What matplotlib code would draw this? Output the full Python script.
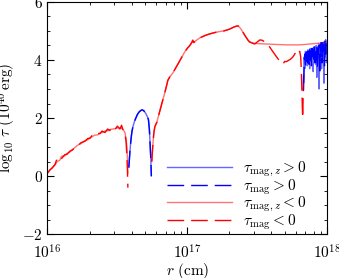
import matplotlib
matplotlib.use('Agg')
import matplotlib.pyplot as plt
import numpy as np

plt.rcParams['mathtext.fontset'] = 'cm'
plt.rcParams['font.family'] = 'serif'
plt.rcParams['font.serif'] = ['cmr10', 'DejaVu Serif']
plt.rcParams['axes.formatter.use_mathtext'] = True
plt.rcParams['font.size'] = 11

# log10 r (cm) and log10 tau (1e40 erg)
# inner red branch (tau < 0)
lr_red1 = [16.0, 16.018, 16.035, 16.054, 16.07, 16.089, 16.1, 16.125, 16.14, 16.161, 16.18,
           16.196, 16.218, 16.24, 16.268, 16.29, 16.304, 16.32, 16.339, 16.36, 16.375, 16.39,
           16.411, 16.43, 16.446, 16.465, 16.482, 16.5, 16.518, 16.53, 16.539, 16.554, 16.562,
           16.568, 16.572, 16.575]
v_red1 = [0.10, 0.2, 0.3, 0.38, 0.5, 0.55, 0.68, 0.7, 0.78, 0.83, 0.92, 0.98, 1.07, 1.12,
          1.22, 1.25, 1.32, 1.36, 1.41, 1.42, 1.48, 1.5, 1.55, 1.56, 1.6, 1.62, 1.63, 1.66,
          1.65, 1.64, 1.62, 1.5, 1.3, 1.0, 0.6, 0.1]
v_red1_tot = [0.10, 0.22, 0.28, 0.40, 0.62, 0.55, 0.6, 0.74, 0.75, 0.86, 0.9, 1.0, 1.05,
              1.15, 1.2, 1.3, 1.3, 1.4, 1.38, 1.47, 1.46, 1.55, 1.5, 1.62, 1.57, 1.68, 1.6,
              1.72, 1.62, 1.75, 1.6, 1.45, 1.2, 0.7, 0.2, -0.4]

# blue branch (tau > 0)
lr_blue1 = [16.582, 16.589, 16.596, 16.603, 16.611, 16.622, 16.632, 16.643, 16.654, 16.665,
            16.675, 16.682, 16.689, 16.697, 16.704, 16.711, 16.718, 16.722, 16.725, 16.729,
            16.732, 16.736, 16.739, 16.743]
v_blue1 = [0.3, 0.8, 1.2, 1.5, 1.7, 1.88, 2.0, 2.12, 2.2, 2.25, 2.28, 2.27, 2.25, 2.2, 2.15,
           2.08, 2.0, 1.95, 1.8, 1.6, 1.3, 0.9, 0.6, 0.0]

# outer red branch, shared part
lr_red2 = [16.746, 16.754, 16.761, 16.768, 16.775, 16.782, 16.79, 16.804, 16.818, 16.832,
           16.846, 16.861, 16.875, 16.896, 16.914, 16.932, 16.955, 16.982, 17.0, 17.018,
           17.032, 17.039, 17.046, 17.06, 17.089, 17.125, 17.161, 17.2, 17.232, 17.26,
           17.282, 17.3, 17.318, 17.336, 17.354, 17.365, 17.375, 17.386, 17.396, 17.41,
           17.425, 17.436, 17.446]
v_red2 = [0.5, 1.1, 1.5, 1.7, 1.78, 1.85, 2.0, 2.25, 2.5, 2.75, 3.0, 3.3, 3.42, 3.55, 3.7,
          3.85, 4.05, 4.28, 4.4, 4.5, 4.6, 4.68, 4.6, 4.66, 4.76, 4.84, 4.9, 4.95, 4.98,
          5.0, 5.03, 5.06, 5.1, 5.14, 5.17, 5.17, 5.12, 5.05, 4.97, 4.86, 4.75, 4.67, 4.62]

# tau_mag,z stays flat out to 1e18
lr_red3 = [17.446, 17.482, 17.52, 17.568, 17.61, 17.661, 17.72, 17.789, 17.83, 17.875,
           17.92, 17.968, 17.996]
v_red3 = [4.62, 4.57, 4.56, 4.55, 4.54, 4.53, 4.52, 4.52, 4.53, 4.55, 4.57, 4.59, 4.62]

# tau_mag dips before turning positive
lr_red4 = [17.446, 17.465, 17.482, 17.5, 17.518, 17.536, 17.554, 17.57, 17.589, 17.61,
           17.632, 17.655, 17.675, 17.685, 17.696, 17.707, 17.718, 17.736, 17.754, 17.768,
           17.782, 17.79, 17.796, 17.804, 17.811, 17.815, 17.818, 17.822, 17.825, 17.829,
           17.832]
v_red4 = [4.62, 4.58, 4.55, 4.62, 4.69, 4.68, 4.62, 4.55, 4.45, 4.3, 4.15, 4.0, 3.9, 3.86,
          3.95, 3.94, 3.97, 4.02, 4.1, 4.2, 4.34, 4.3, 4.26, 4.3, 4.1, 3.7, 3.2, 2.5, 2.0,
          2.8, 3.5]

# noisy positive tail
lr_blue2 = [17.832, 17.836, 17.84, 17.845, 17.85, 17.854, 17.858, 17.862, 17.867, 17.871,
            17.875, 17.879, 17.884, 17.888, 17.892, 17.896, 17.9, 17.905, 17.909, 17.913,
            17.918, 17.922, 17.926, 17.93, 17.935, 17.939, 17.943, 17.947, 17.952, 17.956,
            17.96, 17.964, 17.968, 17.972, 17.977, 17.981, 17.985, 17.99, 17.994, 17.998]
v_blue2 = [2.97, 4.1, 3.7, 4.3, 3.9, 4.2, 3.8, 4.35, 4.0, 4.25, 3.7, 4.4, 3.95, 4.3, 4.05,
           4.4, 3.6, 4.45, 4.1, 4.3, 3.85, 4.5, 3.4, 4.45, 4.1, 4.55, 3.0, 4.5, 4.0, 4.6,
           3.7, 4.55, 4.2, 4.6, 3.2, 4.65, 4.1, 4.7, 3.9, 4.55]
v_blue2_tot = [3.2, 3.9, 4.2, 3.8, 4.25, 3.95, 4.3, 3.9, 4.3, 3.85, 4.35, 4.0, 4.3, 3.8,
               4.4, 4.0, 4.35, 3.9, 4.45, 3.9, 4.4, 4.0, 4.5, 3.7, 4.5, 4.2, 4.5, 3.5, 4.55,
               4.1, 4.6, 3.9, 4.6, 4.3, 4.55, 3.8, 4.65, 4.2, 4.6, 4.5]

legend_labels = [r'$\tau_{{\rm mag},z} > 0$', r'$\tau_{\rm mag} > 0$',
                 r'$\tau_{{\rm mag},z} < 0$', r'$\tau_{\rm mag} < 0$']


def r(lr):
    return 10.0 ** np.array(lr)


fig = plt.figure(figsize=(3.39, 2.78), dpi=100)
ax = fig.add_axes([0.140, 0.158, 0.825, 0.835])

blue_z = dict(color='blue', alpha=0.6, lw=1.0)
blue_t = dict(color='blue', lw=1.0, ls=(0, (12, 5)))
red_z = dict(color='red', alpha=0.55, lw=1.0)
red_t = dict(color='red', lw=1.0, ls=(0, (12, 5)))

# tau_mag (dashed)
ax.plot(r(lr_red1), v_red1_tot, **red_t)
ax.plot(r(lr_blue1), v_blue1, **blue_t)
ax.plot(r(lr_red2), v_red2, **red_t)
ax.plot(r(lr_red4), v_red4, **red_t)
ax.plot(r(lr_blue2), v_blue2_tot, **blue_t)

# tau_mag,z (solid)
ax.plot(r(lr_red1), v_red1, **red_z)
ax.plot(r(lr_blue1), v_blue1, **blue_z)
ax.plot(r(lr_red2), v_red2, **red_z)
ax.plot(r(lr_red3), v_red3, **red_z)
ax.plot(r(lr_blue2), v_blue2, **blue_z)

h1, = ax.plot([], [], **blue_z)
h2, = ax.plot([], [], **blue_t)
h3, = ax.plot([], [], **red_z)
h4, = ax.plot([], [], **red_t)
ax.legend([h1, h2, h3, h4], legend_labels, loc='lower right', frameon=False,
          handlelength=4.3, fontsize=11, labelspacing=-0.12,
          bbox_to_anchor=(0.975, -0.05), handletextpad=0.7)

ax.set_xscale('log')
ax.set_xlim(1e16, 1e18)
ax.set_ylim(-2, 6)
ax.set_yticks([-2, 0, 2, 4, 6])
ax.set_yticks(np.arange(-2, 6.01, 0.5), minor=True)
ax.tick_params(which='both', direction='in', top=True, right=True)
ax.tick_params(which='major', length=5)
ax.tick_params(which='minor', length=2.5)
ax.tick_params(axis='x', which='major', pad=7)

ax.set_xlabel(r'$r\ ({\rm cm})$', labelpad=-0.5)
ax.set_ylabel(r'$\log_{10}\,\tau\ (10^{40}\,{\rm erg})$', labelpad=3)

fig.savefig('out.png', dpi=100)
